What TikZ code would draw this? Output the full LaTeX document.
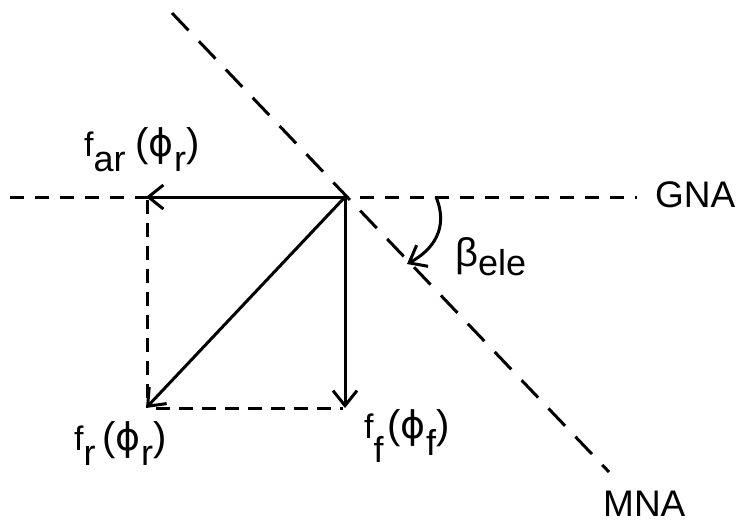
\documentclass[tikz,border=0pt]{standalone}
\usepackage{fontspec}
\setmainfont{Liberation Sans}
\newfontfamily\dvfont{DejaVu Sans}
\usetikzlibrary{arrows.meta}
\newcommand{\lmain}[1]{{\fontsize{34}{36}\selectfont #1}}
\newcommand{\lsub}[2][15]{\raisebox{-#1pt}{\fontsize{36}{36}\selectfont #2}}
\newcommand{\lpar}[1]{{\fontsize{40}{40}\selectfont #1}}
\newcommand{\lphi}{{\dvfont\fontsize{38}{40}\selectfont ϕ}}
\newcommand{\axfont}{\fontsize{37}{40}\selectfont}
\tikzset{
  vec/.style={line width=3pt, -{Straight Barb[length=15pt,width=24pt,line width=3pt]}},
  axisline/.style={line width=3pt, dash pattern=on 14pt off 11pt},
  mnaline/.style={line width=3pt, dash pattern=on 24pt off 15pt},
  helper/.style={line width=3pt, dash pattern=on 14pt off 9pt},
  lbl/.style={inner sep=0pt, anchor=base west}
}
\begin{document}
\begin{tikzpicture}[x=1pt,y=-1pt]
\useasboundingbox (0,0) rectangle (743,525);
\fill[white] (0,0) rectangle (743,525);
% coordinates
\coordinate (O) at (345,197);
\coordinate (A) at (146,197);
\coordinate (R) at (146,408);
\coordinate (F) at (345,408);
\coordinate (G1) at (10,197);
\coordinate (G2) at (637,197);
\coordinate (M1) at (172,13);
\coordinate (M2) at (609,472);
\coordinate (V1) at (147,200);
\coordinate (V2) at (147,404);
\coordinate (H1) at (156,408);
\coordinate (H2) at (343,408);
\coordinate (C1) at (436,197);
\coordinate (C2) at (407,264);
% axes
\draw[axisline] (G1) -- (G2);
\draw[mnaline] (M1) -- (M2);
% helper dashed lines
\draw[helper] (V1) -- (V2);
\draw[helper] (H1) -- (H2);
% vectors
\draw[vec] (O) -- (A);
\draw[vec] (O) -- (F);
\draw[vec] (O) -- (R);
% angle arrow
\draw[vec] (C1) .. controls (449,228) and (433,250) .. (C2);
% labels
\node[lbl] (gna) at (655,207) {\axfont GNA};
\node[lbl] (mna) at (603,516) {\axfont MNA};
\node[lbl] (far) at (84,156) {\lmain{f}\lsub{ar}\hspace{10pt}\lpar{(}\lphi\lsub{r}\lpar{)}};
\node[lbl] (fr) at (74,450) {\lmain{f}\lsub{r}\hspace{7pt}\lpar{(}\lphi\lsub{r}\lpar{)}};
\node[lbl] (ff) at (364,438) {\lmain{f}\lsub[24]{f}\hspace{4pt}\lpar{(}\lphi\lsub[17]{f}\lpar{)}};
\node[lbl] (bele) at (455,266) {{\fontsize{40}{40}\selectfont β}\lsub[9]{ele}};
\end{tikzpicture}
\end{document}
